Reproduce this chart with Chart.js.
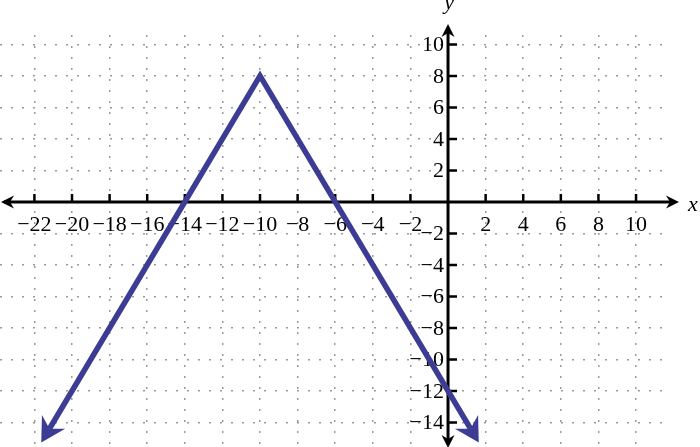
<!DOCTYPE html>
<html>
<head>
<meta charset="utf-8">
<script src="https://cdn.jsdelivr.net/npm/chart.js@4.4.0/dist/chart.umd.min.js"></script>
<style>
  html, body { margin: 0; padding: 0; background: #fff; }
</style>
</head>
<body>
<canvas id="graph" width="700" height="447"></canvas>
<script>
// tick values (grid every 2 units, 0 is left to the axes)
var xTicks = [-22, -20, -18, -16, -14, -12, -10, -8, -6, -4, -2, 2, 4, 6, 8, 10];
var yTicks = [-14, -12, -10, -8, -6, -4, -2, 2, 4, 6, 8, 10];

// the graph of the absolute value function, ends carry arrows
var lineX = [-21.2, -10, 1.2];
var lineY = [-14.4, 8, -14.4];

var lineColor = "#3c3c94";

function stealth(ctx, tx, ty, dx, dy, len, half, notch) {
  var px = -dy, py = dx;
  ctx.beginPath();
  ctx.moveTo(tx, ty);
  ctx.lineTo(tx - dx * len + px * half, ty - dy * len + py * half);
  ctx.lineTo(tx - dx * (len - notch), ty - dy * (len - notch));
  ctx.lineTo(tx - dx * len - px * half, ty - dy * len - py * half);
  ctx.closePath();
  ctx.fill();
}

function minusLabel(v) {
  return v < 0 ? "\u2212" + Math.abs(v) : String(v);
}

var axesPlugin = {
  id: "axes",
  beforeDatasetsDraw(chart) {
    let ctx = chart.ctx;
    let xs = chart.scales.x, ys = chart.scales.y;
    let ox = xs.getPixelForValue(0), oy = ys.getPixelForValue(0);
    ctx.save();
    ctx.strokeStyle = "#000";
    ctx.fillStyle = "#000";
    ctx.lineWidth = 3;
    // axis lines
    ctx.beginPath();
    ctx.moveTo(4, oy); ctx.lineTo(672, oy);
    ctx.moveTo(ox, 30); ctx.lineTo(ox, 442);
    ctx.stroke();
    stealth(ctx, 1, oy, -1, 0, 13, 6.5, 4);
    stealth(ctx, 679, oy, 1, 0, 13, 6.5, 4);
    stealth(ctx, ox, 24, 0, -1, 13, 6.5, 4);
    stealth(ctx, ox, 448, 0, 1, 13, 6.5, 4);

    // tick marks
    ctx.lineWidth = 2.5;
    ctx.beginPath();
    xTicks.forEach(function (v) {
      let p = xs.getPixelForValue(v);
      ctx.moveTo(p, oy); ctx.lineTo(p, oy - 8);
    });
    yTicks.forEach(function (v) {
      let p = ys.getPixelForValue(v);
      ctx.moveTo(ox, p); ctx.lineTo(ox + 9, p);
    });
    ctx.stroke();

    // tick labels
    ctx.font = "22px 'Liberation Serif'";
    ctx.textAlign = "center";
    ctx.textBaseline = "alphabetic";
    xTicks.forEach(function (v) {
      ctx.fillText(minusLabel(v), xs.getPixelForValue(v), oy + 29);
    });
    ctx.textAlign = "right";
    ctx.textBaseline = "middle";
    yTicks.forEach(function (v) {
      ctx.fillText(minusLabel(v), ox - 4, ys.getPixelForValue(v) + 1);
    });

    // axis names
    ctx.font = "italic 22px 'Liberation Serif'";
    ctx.textAlign = "left";
    ctx.textBaseline = "alphabetic";
    ctx.fillText("x", 688, oy + 9);
    ctx.textAlign = "center";
    ctx.fillText("y", ox + 1, 9);
    ctx.restore();
  },
  afterDatasetsDraw(chart) {
    let ctx = chart.ctx;
    let meta = chart.getDatasetMeta(0).data;
    ctx.save();
    ctx.fillStyle = lineColor;
    [[0, 1], [meta.length - 1, meta.length - 2]].forEach(function (pair) {
      let a = meta[pair[0]], b = meta[pair[1]];
      let dx = a.x - b.x, dy = a.y - b.y;
      let d = Math.sqrt(dx * dx + dy * dy);
      dx /= d; dy /= d;
      stealth(ctx, a.x + dx * 16, a.y + dy * 16, dx, dy, 24, 13.5, 8);
    });
    ctx.restore();
  }
};

let ctx = document.getElementById("graph").getContext("2d");

let chart = new Chart(ctx, {
  type: "scatter",
  data: {
    datasets: [
      {
        data: lineX.map((x, i) => ({ x: x, y: lineY[i] })),
        showLine: true,
        borderColor: lineColor,
        borderWidth: 5.5,
        pointRadius: 0,
        tension: 0,
        borderJoinStyle: "miter",
        clip: false,
      },
    ],
  },
  options: {
    responsive: false,
    animation: false,
    layout: { padding: { left: 0, right: 32, top: 35, bottom: 0 } },
    plugins: { legend: { display: false }, tooltip: { enabled: false } },
    scales: {
      x: {
        type: "linear",
        min: -23.83,
        max: 11.7,
        afterBuildTicks: (s) => { s.ticks = xTicks.map((v) => ({ value: v })); },
        afterFit: (s) => { s.height = 0; },
        ticks: { display: false },
        border: { display: false, dash: [2, 9] },
        grid: { color: "#9a9a9a", lineWidth: 1.5, drawTicks: false },
      },
      y: {
        type: "linear",
        min: -15.56,
        max: 10.6,
        afterBuildTicks: (s) => { s.ticks = yTicks.map((v) => ({ value: v })); },
        afterFit: (s) => { s.width = 0; },
        ticks: { display: false },
        border: { display: false, dash: [2, 9] },
        grid: { color: "#9a9a9a", lineWidth: 1.5, drawTicks: false },
      },
    },
  },
  plugins: [axesPlugin],
});
</script>
</body>
</html>
